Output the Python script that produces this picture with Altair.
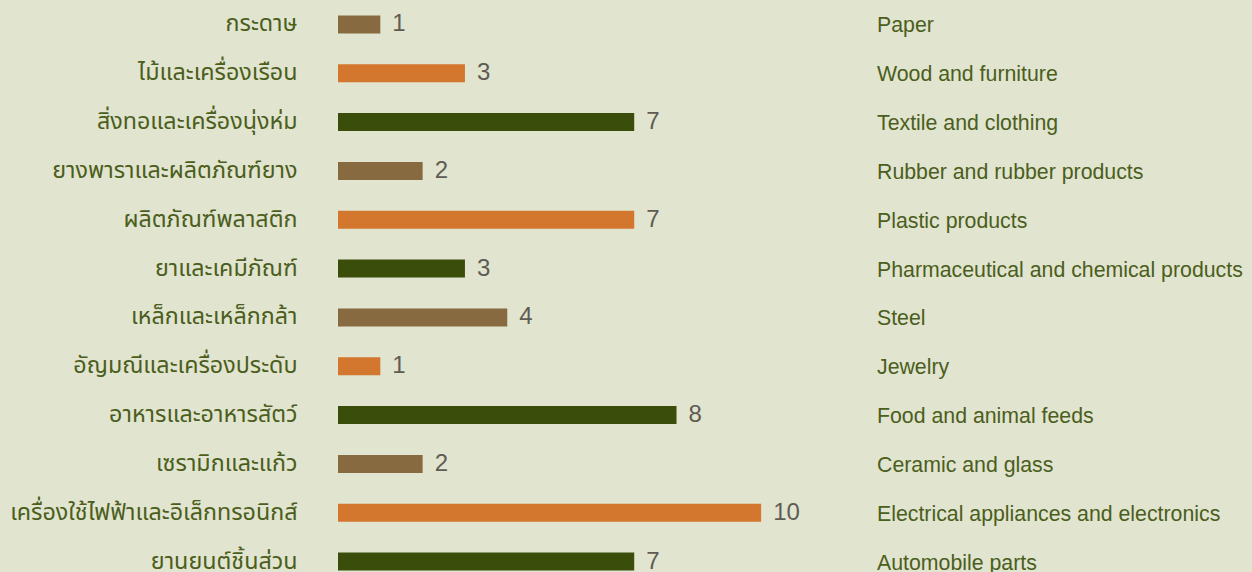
import altair as alt
import pandas as pd

thai = [
    "กระดาษ",
    "ไม้และเครื่องเรือน",
    "สิ่งทอและเครื่องนุ่งห่ม",
    "ยางพาราและผลิตภัณฑ์ยาง",
    "ผลิตภัณฑ์พลาสติก",
    "ยาและเคมีภัณฑ์",
    "เหล็กและเหล็กกล้า",
    "อัญมณีและเครื่องประดับ",
    "อาหารและอาหารสัตว์",
    "เซรามิกและแก้ว",
    "เครื่องใช้ไฟฟ้าและอิเล็กทรอนิกส์",
    "ยานยนต์ชิ้นส่วน",
]
english = [
    "Paper",
    "Wood and furniture",
    "Textile and clothing",
    "Rubber and rubber products",
    "Plastic products",
    "Pharmaceutical and chemical products",
    "Steel",
    "Jewelry",
    "Food and animal feeds",
    "Ceramic and glass",
    "Electrical appliances and electronics",
    "Automobile parts",
]
values = [1, 3, 7, 2, 7, 3, 4, 1, 8, 2, 10, 7]
groups = ["A", "B", "C", "A", "B", "C", "A", "B", "C", "A", "B", "C"]

df = pd.DataFrame({"thai": thai, "english": english, "value": values, "group": groups})

BG = "#e1e4cf"
TEXT_GREEN = "#4b5e1c"
NUM_GREY = "#5f5b53"

y_enc = alt.Y(
    "thai:N",
    sort=thai,
    title=None,
    scale=alt.Scale(paddingInner=0, paddingOuter=0),
    axis=alt.Axis(
        domain=False,
        ticks=False,
        grid=False,
        labelAlign="right",
        labelBaseline="middle",
        labelPadding=41,
        labelFontSize=23.3,
        labelFont="Noto Sans Thai, Noto Sans, sans-serif",
        labelColor=TEXT_GREEN,
        labelLimit=600,
    ),
)

x_enc = alt.X(
    "value:Q",
    scale=alt.Scale(domain=[0, 21.6], nice=False, zero=True),
    axis=None,
)

base = alt.Chart(df)

bars = base.mark_bar(size=18).encode(
    x=x_enc,
    y=y_enc,
    color=alt.Color(
        "group:N",
        scale=alt.Scale(domain=["A", "B", "C"], range=["#876a3f", "#d3762e", "#3a4d0a"]),
        legend=None,
    ),
)

nums = base.mark_text(
    align="left", baseline="middle", dx=12, dy=0, fontSize=24,
    font="Liberation Sans, Arial, sans-serif", color=NUM_GREY,
).encode(x=x_enc, y=alt.Y("thai:N", sort=thai), text="value:Q")

eng = base.mark_text(
    align="left", baseline="middle", dy=2, fontSize=21.3,
    font="Liberation Sans, Arial, sans-serif", color=TEXT_GREEN,
).encode(x=alt.value(539), y=alt.Y("thai:N", sort=thai), text="english:N")

chart = (
    alt.layer(bars, nums, eng)
    .properties(
        width=914,
        height=586,
        background=BG,
        padding={"left": 338, "top": 0, "right": 0, "bottom": 0},
        autosize=alt.AutoSizeParams(type="none"),
    )
    .configure_view(stroke=None, fill=BG)
)

chart.save("out.html", embed_options={"renderer": "svg", "actions": False})
